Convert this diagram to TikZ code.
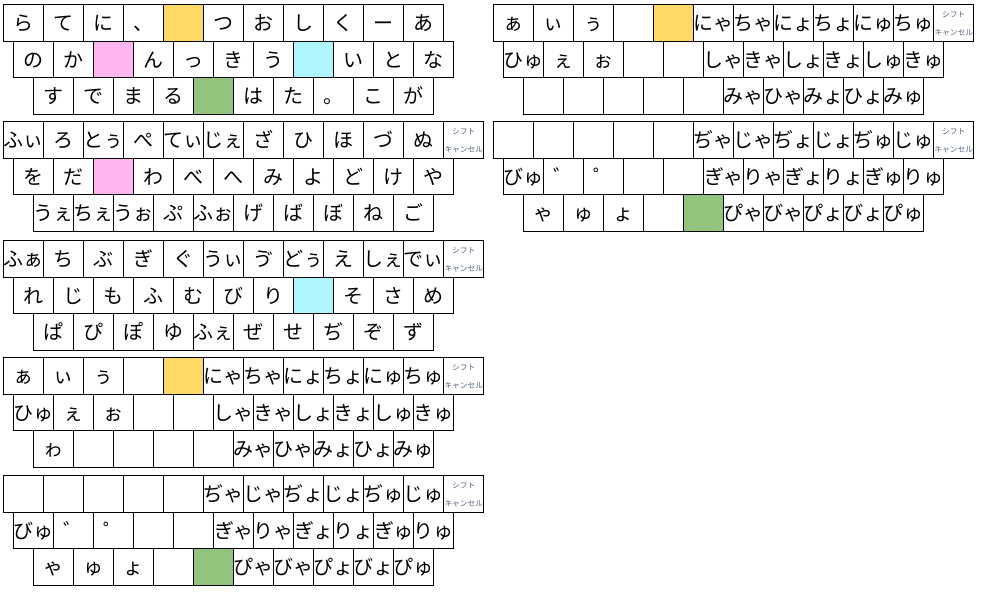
\documentclass[tikz,border=0pt]{standalone}
\usepackage{fontspec}
\newfontfamily\cjk{Noto Sans CJK JP}
\definecolor{kW}{HTML}{FFFFFF}
\definecolor{kY}{HTML}{FFD966}
\definecolor{kP}{HTML}{FFB5EF}
\definecolor{kC}{HTML}{AEF5FF}
\definecolor{kG}{HTML}{93C47D}
\definecolor{kshift}{HTML}{55657F}
\tikzset{
  key/.style={draw=black, line width=0.8pt, anchor=north west, inner sep=0pt,
    minimum width=30pt, minimum height=27.375pt, text width=30pt, align=center,
    text height=13.2pt, text depth=1.8pt, font=\cjk\fontsize{15}{18}\selectfont},
  shiftlab/.style={inner sep=0pt, align=center, text=kshift, yshift=-0.75pt,
    font=\cjk\fontsize{5.8}{13.5}\selectfont}
}
\newcommand\keyrow[5]{%
  \foreach \s/\l [count=\i] in {#5}{%
    \node[key, fill=\s] (k#1-#2-\i) at ({#3+(\i-1)*40},#4) {\l};}}
\begin{document}
\begin{tikzpicture}[x=0.75pt,y=-0.75pt]
\useasboundingbox (0,0) rectangle (983,595);
% ---------- block 1
\keyrow{1}{1}{3.3}{4.3}{kW/ら,kW/て,kW/に,kW/、,kY/{},kW/つ,kW/お,kW/し,kW/く,kW/ー,kW/あ}
\keyrow{1}{2}{13.3}{40.8}{kW/の,kW/か,kP/{},kW/ん,kW/っ,kW/き,kW/う,kC/{},kW/い,kW/と,kW/な}
\keyrow{1}{3}{33.3}{77.3}{kW/す,kW/で,kW/ま,kW/る,kG/{},kW/は,kW/た,kW/。,kW/こ,kW/が}
% ---------- block 2
\keyrow{2}{1}{3.3}{121.3}{kW/ふぃ,kW/ろ,kW/とぅ,kW/ぺ,kW/てぃ,kW/じぇ,kW/ざ,kW/ひ,kW/ほ,kW/づ,kW/ぬ,kW/{}}
\keyrow{2}{2}{13.3}{157.8}{kW/を,kW/だ,kP/{},kW/わ,kW/べ,kW/へ,kW/み,kW/よ,kW/ど,kW/け,kW/や}
\keyrow{2}{3}{33.3}{194.3}{kW/うぇ,kW/ちぇ,kW/うぉ,kW/ぷ,kW/ふぉ,kW/げ,kW/ば,kW/ぼ,kW/ね,kW/ご}
\node[shiftlab] (s2) at (k2-1-12.center) {シフト\\キャンセル};
% ---------- block 3
\keyrow{3}{1}{3.3}{240.3}{kW/ふぁ,kW/ち,kW/ぶ,kW/ぎ,kW/ぐ,kW/うぃ,kW/ゔ,kW/どぅ,kW/え,kW/しぇ,kW/でぃ,kW/{}}
\keyrow{3}{2}{13.3}{276.8}{kW/れ,kW/じ,kW/も,kW/ふ,kW/む,kW/び,kW/り,kC/{},kW/そ,kW/さ,kW/め}
\keyrow{3}{3}{33.3}{313.3}{kW/ぱ,kW/ぴ,kW/ぽ,kW/ゆ,kW/ふぇ,kW/ぜ,kW/せ,kW/ぢ,kW/ぞ,kW/ず}
\node[shiftlab] (s3) at (k3-1-12.center) {シフト\\キャンセル};
% ---------- block 4
\keyrow{4}{1}{3.3}{357.3}{kW/ぁ,kW/ぃ,kW/ぅ,kW/{},kY/{},kW/にゃ,kW/ちゃ,kW/にょ,kW/ちょ,kW/にゅ,kW/ちゅ,kW/{}}
\keyrow{4}{2}{13.3}{393.8}{kW/ひゅ,kW/ぇ,kW/ぉ,kW/{},kW/{},kW/しゃ,kW/きゃ,kW/しょ,kW/きょ,kW/しゅ,kW/きゅ}
\keyrow{4}{3}{33.3}{430.3}{kW/ゎ,kW/{},kW/{},kW/{},kW/{},kW/みゃ,kW/ひゃ,kW/みょ,kW/ひょ,kW/みゅ}
\node[shiftlab] (s4) at (k4-1-12.center) {シフト\\キャンセル};
% ---------- block 5
\keyrow{5}{1}{3.3}{475.3}{kW/{},kW/{},kW/{},kW/{},kW/{},kW/ぢゃ,kW/じゃ,kW/ぢょ,kW/じょ,kW/ぢゅ,kW/じゅ,kW/{}}
\keyrow{5}{2}{13.3}{511.8}{kW/びゅ,kW/゛,kW/゜,kW/{},kW/{},kW/ぎゃ,kW/りゃ,kW/ぎょ,kW/りょ,kW/ぎゅ,kW/りゅ}
\keyrow{5}{3}{33.3}{548.3}{kW/ゃ,kW/ゅ,kW/ょ,kW/{},kG/{},kW/ぴゃ,kW/びゃ,kW/ぴょ,kW/びょ,kW/ぴゅ}
\node[shiftlab] (s5) at (k5-1-12.center) {シフト\\キャンセル};
% ---------- block R1
\keyrow{6}{1}{493.3}{4.3}{kW/ぁ,kW/ぃ,kW/ぅ,kW/{},kY/{},kW/にゃ,kW/ちゃ,kW/にょ,kW/ちょ,kW/にゅ,kW/ちゅ,kW/{}}
\keyrow{6}{2}{503.3}{40.8}{kW/ひゅ,kW/ぇ,kW/ぉ,kW/{},kW/{},kW/しゃ,kW/きゃ,kW/しょ,kW/きょ,kW/しゅ,kW/きゅ}
\keyrow{6}{3}{523.3}{77.3}{kW/{},kW/{},kW/{},kW/{},kW/{},kW/みゃ,kW/ひゃ,kW/みょ,kW/ひょ,kW/みゅ}
\node[shiftlab] (s6) at (k6-1-12.center) {シフト\\キャンセル};
% ---------- block R2
\keyrow{7}{1}{493.3}{121.3}{kW/{},kW/{},kW/{},kW/{},kW/{},kW/ぢゃ,kW/じゃ,kW/ぢょ,kW/じょ,kW/ぢゅ,kW/じゅ,kW/{}}
\keyrow{7}{2}{503.3}{157.8}{kW/びゅ,kW/゛,kW/゜,kW/{},kW/{},kW/ぎゃ,kW/りゃ,kW/ぎょ,kW/りょ,kW/ぎゅ,kW/りゅ}
\keyrow{7}{3}{523.3}{194.3}{kW/ゃ,kW/ゅ,kW/ょ,kW/{},kG/{},kW/ぴゃ,kW/びゃ,kW/ぴょ,kW/びょ,kW/ぴゅ}
\node[shiftlab] (s7) at (k7-1-12.center) {シフト\\キャンセル};
\end{tikzpicture}
\end{document}
